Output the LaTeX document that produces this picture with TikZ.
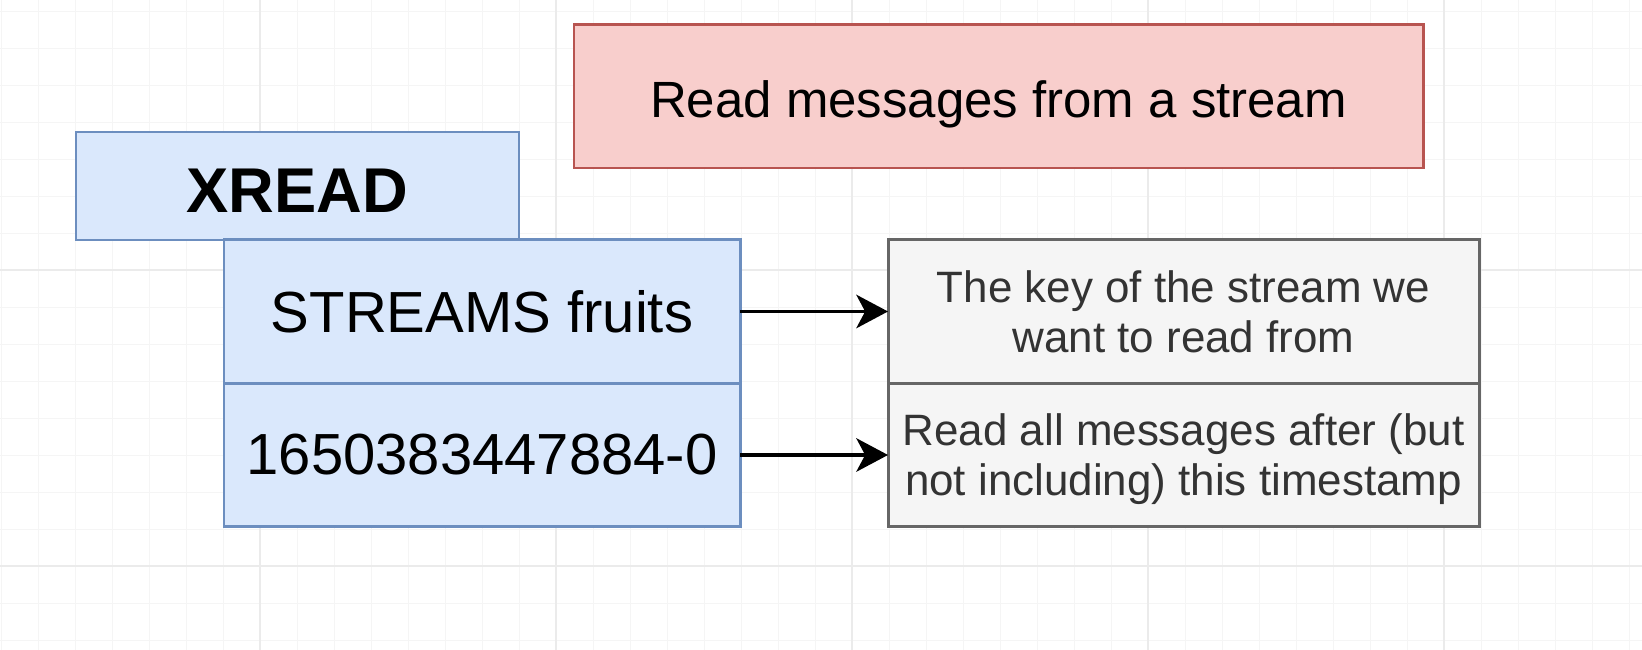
\documentclass[tikz,border=0pt]{standalone}
\usepackage{fontspec}
\setmainfont{Liberation Sans}
\usetikzlibrary{positioning,arrows.meta}

\definecolor{bluefill}{HTML}{DAE8FC}
\definecolor{blueline}{HTML}{6C8EBF}
\definecolor{redfill}{HTML}{F8CECC}
\definecolor{redline}{HTML}{B85450}
\definecolor{greyfill}{HTML}{F5F5F5}
\definecolor{greyline}{HTML}{666666}
\definecolor{greytext}{HTML}{333333}

\begin{document}
\begin{tikzpicture}[
  cmdbox/.style={draw=blueline,fill=bluefill,line width=1.7pt,inner sep=0pt,outer sep=0pt,
    minimum width=10.32cm,minimum height=2.87cm,font=\fontsize{33}{38}\selectfont},
  descbox/.style={draw=greyline,fill=greyfill,line width=1.7pt,inner sep=0pt,outer sep=0pt,
    minimum width=11.82cm,minimum height=2.87cm,align=center,text=greytext,text depth=0pt,
    execute at begin node={\rule{0pt}{24pt}},font=\fontsize{25}{28.5}\selectfont},
  arr/.style={-{Stealth[length=18pt,width=19pt,inset=5pt]},line width=2.2pt}]

\useasboundingbox (0,0) rectangle (32.84,-13);

% grid
\begin{scope}
\clip (0,0) rectangle (32.84,-13);
\draw[shift={(0.02,-0.22)},step=0.74,line width=0.5pt,black!4] (-1,-14) grid (34,1);
\draw[shift={(5.2,-5.4)},step=5.92,line width=0.6pt,black!8] (-6,-8) grid (28,6);
\end{scope}

\node[draw=redline,fill=redfill,line width=1.7pt,minimum width=16.98cm,minimum height=2.86cm,
  text height=24.4pt,text depth=0pt,font=\fontsize{29}{33}\selectfont]
  (title) at (19.97,-1.93) {Read messages from a stream};

\node[cmdbox,minimum width=8.86cm,minimum height=2.16cm,text height=30pt,text depth=0pt,
  font=\fontsize{36}{40}\selectfont\bfseries] (xread) at (5.95,-3.72) {XREAD};
\node[cmdbox] (streams) at (9.64,-6.23) {STREAMS fruits};
\node[cmdbox,below=0pt of streams] (stamp) {1650383447884-0};

\node[descbox,right=2.96cm of streams] (keydesc) {The key of the stream we\\want to read from};
\node[descbox,below=0pt of keydesc] (afterdesc) {Read all messages after (but\\not including) this timestamp};

\draw[arr] (streams) -- (keydesc);
\draw[arr] (stamp) -- (afterdesc);

\end{tikzpicture}
\end{document}
